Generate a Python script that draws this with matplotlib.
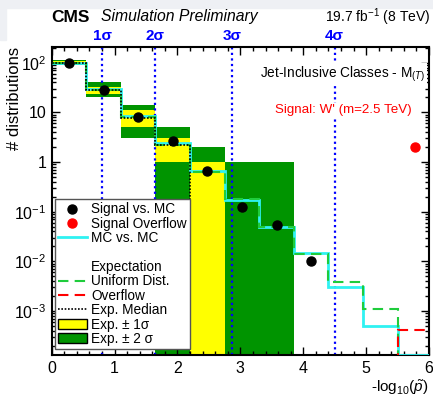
import numpy as np
import matplotlib
matplotlib.use("Agg")
import matplotlib.pyplot as plt
from matplotlib.lines import Line2D
from matplotlib.patches import Patch, Rectangle
from matplotlib.ticker import FixedLocator, FuncFormatter, LogLocator, MultipleLocator

plt.rcParams['font.family'] = ['Liberation Sans', 'DejaVu Sans']
plt.rcParams['mathtext.fontset'] = 'custom'
plt.rcParams['mathtext.rm'] = 'Liberation Sans'
plt.rcParams['mathtext.it'] = 'Liberation Sans:italic'
plt.rcParams['mathtext.bf'] = 'Liberation Sans:bold'

# -log10(p~) binning
bin_edges = [0.0, 0.55, 1.1, 1.65, 2.2, 2.75, 3.3, 3.85, 4.4, 4.95, 5.5, 6.05]

# expectation from uniform p-values and the overflow bin
uniform_dist = [100, 28, 7.9, 2.2, 0.63, 0.18, 0.05, 0.014, 0.0038, 0.0011, 0]
overflow_exp = [0, 0, 0, 0, 0, 0, 0, 0, 0, 0, 4.2e-4]
mc_vs_mc = [100, 29, 8.3, 2.4, 0.66, 0.175, 0.05, 0.0146, 0.0031, 0.00051, 0]
exp_median = [100, 28, 7.7, 2.2, 0, 0, 0, 0, 0, 0, 0]

# +-1 sigma and +-2 sigma bands
band1_lo = [95, 24, 5, 1, 0, 0, 0, 0, 0, 0, 0]
band1_hi = [106, 33, 11, 3, 1, 0, 0, 0, 0, 0, 0]
band2_lo = [88, 20, 3, 0, 0, 0, 0, 0, 0, 0, 0]
band2_hi = [113, 40, 14, 5, 2, 1, 1, 0, 0, 0, 0]

# signal (W' 2.5 TeV) vs. MC
signal_vals = [98, 28, 8.1, 2.67, 0.66, 0.127, 0.053, 0.0104]
signal_overflow_x = 5.775
signal_overflow_y = 2.0

sigma_pos = [0.80, 1.64, 2.87, 4.50]
sigma_labels = ['1σ', '2σ', '3σ', '4σ']

Y_MIN, Y_MAX = 1.3e-4, 210
FLOOR = 1e-7

GREEN_BAND = '#009400'
YELLOW_BAND = '#ffff00'
GREEN_LINE = '#1fcc3c'
CYAN_LINE = '#2ff2f2'
BLUE = '#0000ff'


def draw_bands(ax, edges):
    left = edges[:-1]
    width = np.diff(edges)
    for lo, hi, col in ((band2_lo, band2_hi, GREEN_BAND), (band1_lo, band1_hi, YELLOW_BAND)):
        lo = np.clip(np.array(lo, float), FLOOR, None)
        hi = np.array(hi, float)
        keep = hi > 0
        ax.bar(left[keep], hi[keep] - lo[keep], width=width[keep], bottom=lo[keep],
               align='edge', color=col, lw=0, zorder=1)


def make_legend(ax):
    handles = [
        Line2D([], [], marker='o', color='black', ls='none', ms=6.5),
        Line2D([], [], marker='o', color='red', ls='none', ms=6.5),
        Line2D([], [], color=CYAN_LINE, lw=2),
        Line2D([], [], color='none'),
        Line2D([], [], color='none'),
        Line2D([], [], color=GREEN_LINE, lw=1.5, ls=(0, (5, 3))),
        Line2D([], [], color='red', lw=1.5, ls=(0, (5, 3))),
        Line2D([], [], color='black', lw=1.2, ls=(0, (1, 1))),
        Patch(facecolor=YELLOW_BAND, edgecolor='black', lw=1),
        Patch(facecolor=GREEN_BAND, edgecolor='black', lw=1),
    ]
    labels = ['Signal vs. MC', 'Signal Overflow', 'MC vs. MC', '', 'Expectation',
              'Uniform Dist.', 'Overflow', 'Exp. Median', 'Exp. ± 1σ', 'Exp. ± 2 σ']
    leg = ax.legend(handles, labels, loc='lower left', bbox_to_anchor=(0.0087, 0.0195),
                    borderaxespad=0, fontsize=9.8, labelspacing=0.03, handlelength=2.1,
                    handletextpad=0.35, borderpad=0.22, fancybox=False, framealpha=1,
                    edgecolor='#555555')
    leg.get_frame().set_linewidth(1.0)
    leg.set_zorder(10)


def main():
    fig = plt.figure(figsize=(4.33, 3.96), dpi=100)
    fig.patches.append(Rectangle((0, 1 - 8 / 396), 1, 8 / 396, transform=fig.transFigure,
                                 color='#eef0f4', zorder=0))
    fig.patches.append(Rectangle((0, 1 - 40 / 396), 6 / 433, 40 / 396, transform=fig.transFigure,
                                 color='#eef0f4', zorder=0))
    ax = fig.add_axes([0.1194, 0.1035, 0.8714, 0.7785])
    edges = np.array(bin_edges)
    centers = 0.5 * (edges[:-1] + edges[1:])

    draw_bands(ax, edges)

    ax.stairs(np.clip(mc_vs_mc, Y_MIN, None), edges, baseline=None, color=CYAN_LINE, lw=2, zorder=3)
    ax.stairs(np.clip(uniform_dist, FLOOR, None), edges, baseline=None, color=GREEN_LINE,
              lw=1.5, ls=(0, (5, 3)), zorder=4)
    ax.stairs(np.clip(overflow_exp, FLOOR, None), edges, baseline=None, color='red',
              lw=1.5, ls=(0, (5, 3)), zorder=4)
    ax.stairs(np.clip(exp_median, FLOOR, None), edges, baseline=None, color='black',
              lw=1.2, ls=(0, (1, 1)), zorder=5)

    for xs, lab in zip(sigma_pos, sigma_labels):
        ax.axvline(xs, color=BLUE, lw=1.6, ls=(0, (1, 1.5)), zorder=2)
        ax.text(xs, 1.035, lab, transform=ax.get_xaxis_transform(), ha='center', va='center',
                color=BLUE, fontsize=11, fontweight='bold')

    ax.plot(centers[:len(signal_vals)], signal_vals, 'o', color='black', ms=6.5, zorder=6)
    ax.plot([signal_overflow_x], [signal_overflow_y], 'o', color='red', ms=6.5, zorder=6)

    ax.set_yscale('log')
    ax.set_xlim(0, 6)
    ax.set_ylim(Y_MIN, Y_MAX)

    ax.xaxis.set_major_locator(MultipleLocator(1))
    ax.xaxis.set_minor_locator(MultipleLocator(0.2))
    ax.yaxis.set_major_locator(FixedLocator([1e-3, 1e-2, 1e-1, 1, 10, 100]))
    ax.yaxis.set_minor_locator(LogLocator(base=10, subs=np.arange(2, 10)))

    def ylab(v, pos):
        if v == 1:
            return '1'
        if v == 10:
            return '10'
        return r'$\mathregular{10^{%d}}$' % int(round(np.log10(v)))

    ax.yaxis.set_major_formatter(FuncFormatter(ylab))
    ax.tick_params(which='both', direction='in', top=True, right=True, labelsize=11.5, width=1)
    ax.tick_params(which='major', length=6, pad=4)
    ax.tick_params(which='minor', length=3)
    for sp in ax.spines.values():
        sp.set_linewidth(1.5)

    ax.set_ylabel('# distributions', fontsize=12, ha='right')
    ax.yaxis.set_label_coords(-0.08, 1.0)
    ax.set_xlabel(r'-log$_{10}$($\tilde{p}$)', fontsize=11, loc='right', labelpad=2)

    ax.text(0.99, 0.91, 'Jet-Inclusive Classes - M$_{(T)}$', transform=ax.transAxes,
            ha='right', va='center', fontsize=9.8,
            bbox=dict(facecolor='white', edgecolor='none', pad=1))
    ax.text(0.955, 0.795, "Signal: W' (m=2.5 TeV)", transform=ax.transAxes, color='red',
            ha='right', va='center', fontsize=9.6,
            bbox=dict(facecolor='white', edgecolor='none', pad=1))

    fig.text(51 / 433, 1 - 17 / 396, 'CMS', fontsize=12.5, fontweight='bold', va='center')
    fig.text(101 / 433, 1 - 17 / 396, 'Simulation Preliminary', fontsize=11.3,
             style='italic', va='center')
    fig.text(430 / 433, 1 - 17 / 396, r'19.7 fb$^{-1}$ (8 TeV)', fontsize=10,
             ha='right', va='center')

    make_legend(ax)

    fig.savefig('out.png', dpi=100)


if __name__ == '__main__':
    main()
